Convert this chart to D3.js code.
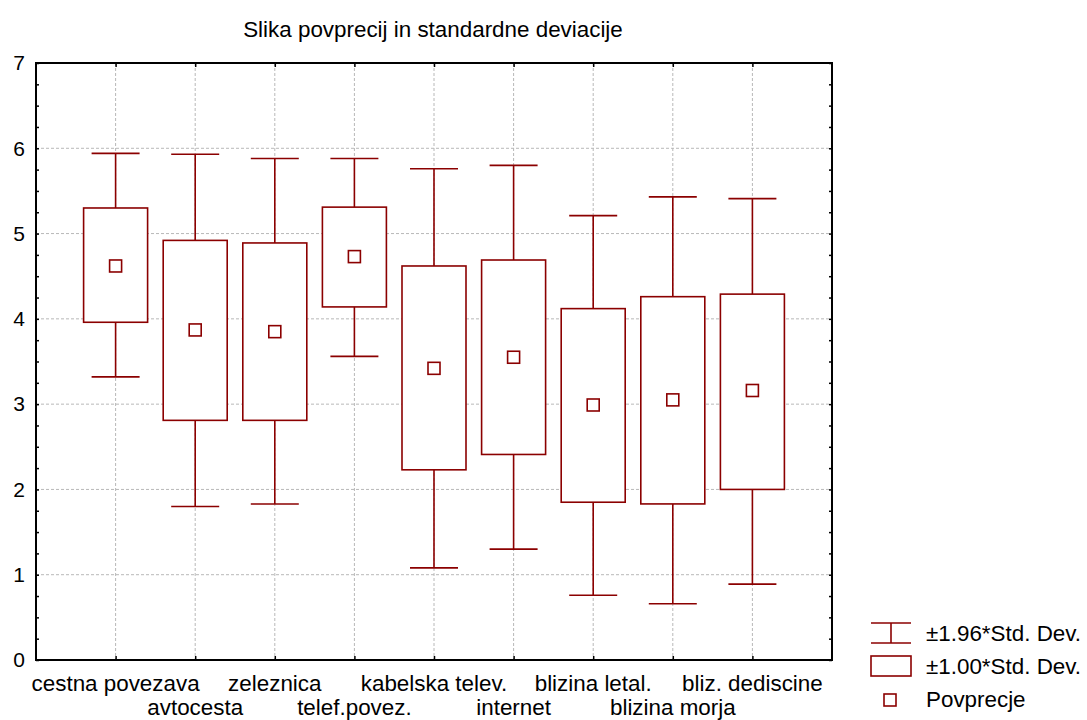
<!DOCTYPE html>
<html><head><meta charset="utf-8">
<script src="https://cdn.jsdelivr.net/npm/d3@7/dist/d3.min.js"></script>
<style>body{margin:0;background:#fff}svg{display:block}text{font-family:"Liberation Sans",Arial,sans-serif;fill:#000}</style>
</head><body><svg id="c" width="1087" height="720"></svg>
<script>
const categories = ["cestna povezava","avtocesta","zeleznica","telef.povez.","kabelska telev.","internet","blizina letal.","blizina morja","bliz. dediscine"];
const means      = [4.62, 3.87, 3.85, 4.73, 3.42, 3.55, 2.99, 3.05, 3.16];
const sdLow      = [3.96, 2.81, 2.81, 4.14, 2.23, 2.41, 1.85, 1.83, 2.00];
const sdHigh     = [5.30, 4.92, 4.89, 5.31, 4.62, 4.69, 4.12, 4.26, 4.29];
const wLow       = [3.32, 1.80, 1.83, 3.56, 1.08, 1.30, 0.76, 0.66, 0.89];
const wHigh      = [5.94, 5.93, 5.88, 5.88, 5.76, 5.80, 5.21, 5.43, 5.41];
const yTicks     = [0,1,2,3,4,5,6,7];
const legendLabels = ["±1.96*Std. Dev.","±1.00*Std. Dev.","Povprecje"];
const title = "Slika povprecij in standardne deviacije";

const col = "#8b0000";
const svg = d3.select("#c");
const L = 36, R = 832, T = 63, B = 660;
const x = d3.scalePoint().domain(categories).range([L, R]).padding(1);
const y = d3.scaleLinear().domain([0, 7]).range([B, T]);

svg.append("text").attr("x", 433).attr("y", 37).attr("text-anchor","middle").style("font-size","22.4px").text(title);

// grid
const g = svg.append("g");
g.selectAll("line.hg").data(yTicks.slice(1,-1)).join("line")
  .attr("x1", L).attr("x2", R).attr("y1", d=>y(d)).attr("y2", d=>y(d))
  .attr("stroke","#b8b8b8").attr("stroke-dasharray","3,2");
g.selectAll("line.vg").data(categories).join("line")
  .attr("x1", d=>x(d)).attr("x2", d=>x(d)).attr("y1", T).attr("y2", B)
  .attr("stroke","#b8b8b8").attr("stroke-dasharray","3,2");

// minor ticks
const minor = d3.range(0, 7.001, 0.25);
svg.append("g").attr("transform",`translate(${L},0)`).call(d3.axisRight(y).tickValues(minor).tickSize(3).tickFormat(""))
  .call(a=>a.select(".domain").remove()).selectAll("line").attr("stroke","#000").attr("stroke-width",1.5);
svg.append("g").attr("transform",`translate(${R},0)`).call(d3.axisLeft(y).tickValues(minor).tickSize(3).tickFormat(""))
  .call(a=>a.select(".domain").remove()).selectAll("line").attr("stroke","#000").attr("stroke-width",1.5);
svg.append("g").attr("transform",`translate(0,${B})`).call(d3.axisTop(x).tickSize(4).tickFormat(""))
  .call(a=>a.select(".domain").remove()).selectAll("line").attr("stroke","#000").attr("stroke-width",1.5);
svg.append("g").attr("transform",`translate(0,${T})`).call(d3.axisBottom(x).tickSize(4).tickFormat(""))
  .call(a=>a.select(".domain").remove()).selectAll("line").attr("stroke","#000").attr("stroke-width",1.5);

// y labels
const ya = svg.append("g").attr("transform",`translate(${L},0)`).call(d3.axisLeft(y).tickValues(yTicks).tickSize(0).tickPadding(11).tickFormat(d3.format("d")));
ya.select(".domain").remove();
ya.selectAll("text").style("font-size","21px").attr("font-family",null);

// x labels
svg.selectAll("text.xl").data(categories).join("text").attr("class","xl")
  .attr("x", d=>x(d)).attr("y", (d,i)=> i%2===0 ? 691 : 715).attr("text-anchor","middle")
  .style("font-size","22.4px").text(d=>d);

// frame
svg.append("rect").attr("x",L).attr("y",T).attr("width",R-L).attr("height",B-T).attr("fill","none").attr("stroke","#000").attr("stroke-width",2);

// boxes
const bw = 64, cw = 48, ms = 12;
const data = categories.map((c,i)=>({c, m:means[i], lo:sdLow[i], hi:sdHigh[i], wl:wLow[i], wh:wHigh[i]}));
const bx = svg.append("g").attr("stroke",col).attr("stroke-width",1.6).attr("fill","none");
data.forEach(d=>{
  const cx = x(d.c);
  bx.append("line").attr("x1",cx).attr("x2",cx).attr("y1",y(d.wh)).attr("y2",y(d.hi));
  bx.append("line").attr("x1",cx).attr("x2",cx).attr("y1",y(d.lo)).attr("y2",y(d.wl));
  bx.append("line").attr("x1",cx-cw/2).attr("x2",cx+cw/2).attr("y1",y(d.wh)).attr("y2",y(d.wh));
  bx.append("line").attr("x1",cx-cw/2).attr("x2",cx+cw/2).attr("y1",y(d.wl)).attr("y2",y(d.wl));
  bx.append("rect").attr("x",cx-bw/2).attr("y",y(d.hi)).attr("width",bw).attr("height",y(d.lo)-y(d.hi)).attr("fill","#fff");
  bx.append("rect").attr("x",cx-ms/2).attr("y",y(d.m)-ms/2).attr("width",ms).attr("height",ms).attr("fill","#fff");
});

// legend
const lg = svg.append("g");
const lx = 871, lw = 40;
lg.append("line").attr("x1",lx).attr("x2",lx+lw).attr("y1",623).attr("y2",623).attr("stroke",col).attr("stroke-width",1.6);
lg.append("line").attr("x1",lx).attr("x2",lx+lw).attr("y1",643).attr("y2",643).attr("stroke",col).attr("stroke-width",1.6);
lg.append("line").attr("x1",lx+lw/2).attr("x2",lx+lw/2).attr("y1",623).attr("y2",643).attr("stroke",col).attr("stroke-width",1.6);
lg.append("rect").attr("x",lx).attr("y",656).attr("width",lw).attr("height",20).attr("fill","none").attr("stroke",col).attr("stroke-width",1.6);
lg.append("rect").attr("x",884).attr("y",694).attr("width",12).attr("height",12).attr("fill","none").attr("stroke",col).attr("stroke-width",1.6);
lg.selectAll("text.lt").data(legendLabels).join("text").attr("class","lt")
  .attr("x",926).attr("y",(d,i)=>[641,674,707][i]).style("font-size","22.4px").text(d=>d);
</script></body></html>
